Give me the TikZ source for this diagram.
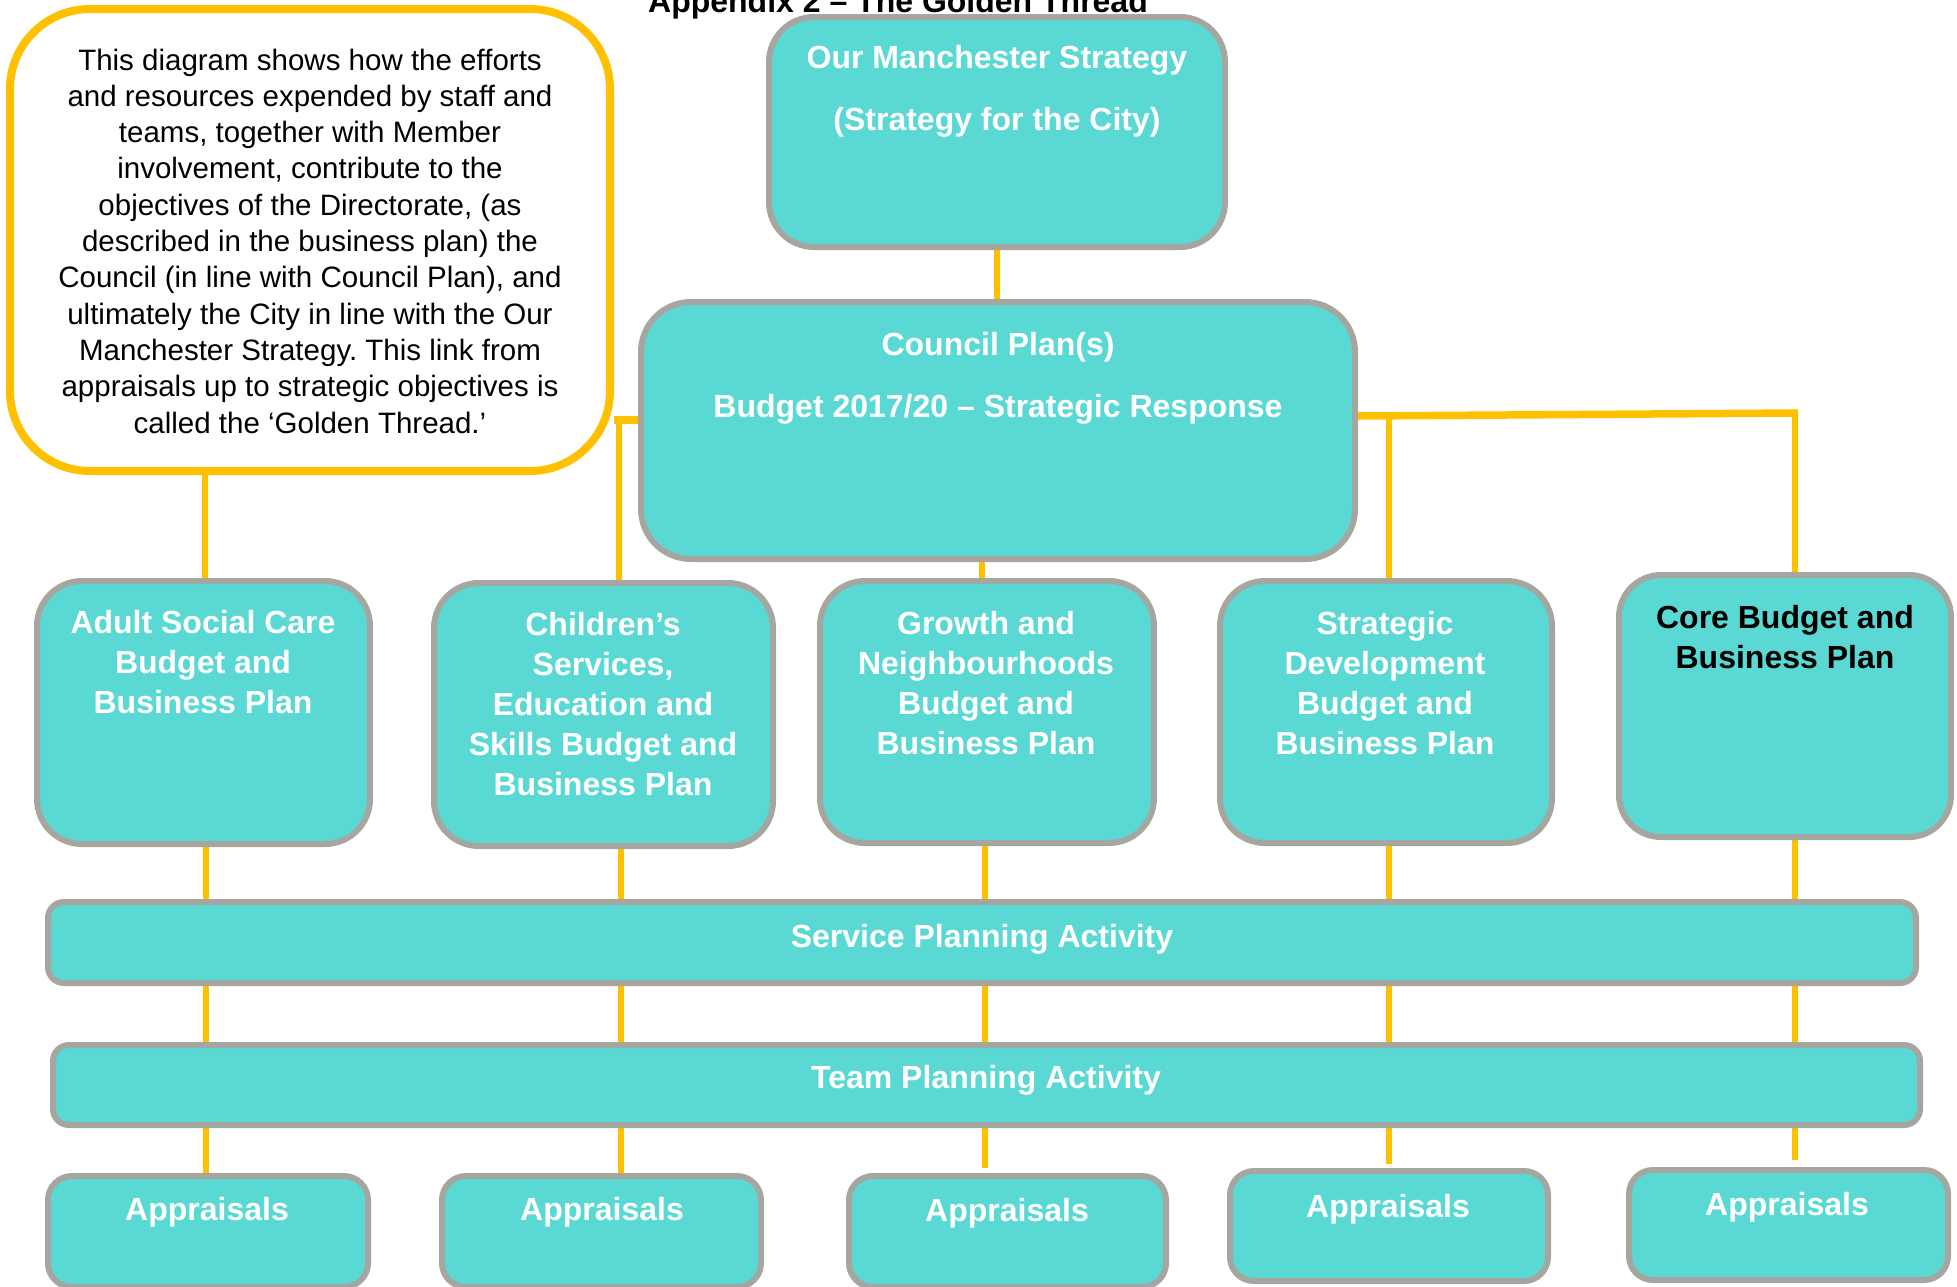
\documentclass[tikz,border=0pt]{standalone}
\usepackage{fontspec}
\setmainfont{Liberation Sans}
\usetikzlibrary{backgrounds,calc}
\definecolor{tealfill}{RGB}{90,217,212}
\definecolor{greyb}{RGB}{165,166,160}
\definecolor{gold}{RGB}{255,192,0}
\newcommand{\mylines}[1]{\begin{tabular}[t]{@{}c@{}}#1\end{tabular}}
\frenchspacing
\begin{document}
\begin{tikzpicture}[x=1pt,y=-1pt,
  tbox/.style={draw=greyb, line width=6pt, fill=tealfill, inner sep=0pt, rectangle},
  callbox/.style={draw=gold, line width=8pt, fill=white, rounded corners=80pt, inner sep=0pt, rectangle},
  thread/.style={draw=gold, line width=6.5pt},
  thickthread/.style={draw=gold, line width=7.5pt},
  wtxt/.style={anchor=base, inner sep=0pt, text=white, font=\bfseries\fontsize{32}{40}\selectfont},
  wtxtwide/.style={anchor=base, inner sep=0pt, text=white, font=\bfseries\fontsize{32}{62}\selectfont},
  btxt/.style={anchor=base, inner sep=0pt, text=black, font=\bfseries\fontsize{32}{40}\selectfont},
  calltxt/.style={anchor=base, inner sep=0pt, text=black, font=\fontsize{29.5}{36.3}\selectfont}
]
\useasboundingbox (0,0) rectangle (1957,1286);

% title
\node[btxt] (title) at (898,12) {Appendix 2 – The Golden Thread};

% callout
\node[callbox, minimum width=600pt, minimum height=462pt] (call) at (310,240) {};
\node[calltxt] (calltext) at (310,70) {\mylines{This diagram shows how the efforts\\
and resources expended by staff and\\
teams, together with Member\\
involvement, contribute to the\\
objectives of the Directorate, (as\\
described in the business plan) the\\
Council (in line with Council Plan), and\\
ultimately the City in line with the Our\\
Manchester Strategy. This link from\\
appraisals up to strategic objectives is\\
called the ‘Golden Thread.’}};

% top boxes
\node[tbox, rounded corners=45pt, minimum width=456pt, minimum height=230pt] (ms) at (997,132) {};
\node[wtxtwide] (mstext) at (997,68) {\mylines{Our Manchester Strategy\\(Strategy for the City)}};

\node[tbox, rounded corners=50pt, minimum width=714pt, minimum height=257pt] (cp) at (998,430.5) {};
\node[wtxtwide] (cptext) at (998,355) {\mylines{Council Plan(s)\\Budget 2017/20 – Strategic Response}};

% directorate boxes
\node[tbox, rounded corners=45pt, minimum width=333pt, minimum height=263pt] (asc) at (203.5,712.5) {};
\node[wtxt] (asctext) at (203,633) {\mylines{Adult Social Care\\Budget and\\Business Plan}};

\node[tbox, rounded corners=45pt, minimum width=339pt, minimum height=263pt] (ch) at (603.5,714.5) {};
\node[wtxt] (chtext) at (603,635) {\mylines{Children’s\\Services,\\Education and\\Skills Budget and\\Business Plan}};

\node[tbox, rounded corners=45pt, minimum width=334pt, minimum height=262pt] (gn) at (987,712) {};
\node[wtxt] (gntext) at (986,634) {\mylines{Growth and\\Neighbourhoods\\Budget and\\Business Plan}};

\node[tbox, rounded corners=45pt, minimum width=332pt, minimum height=262pt] (sd) at (1386,712) {};
\node[wtxt] (sdtext) at (1385,634) {\mylines{Strategic\\Development\\Budget and\\Business Plan}};

\node[tbox, rounded corners=42pt, minimum width=332pt, minimum height=262pt] (core) at (1785,706) {};
\node[btxt] (coretext) at (1785,628) {\mylines{Core Budget and\\Business Plan}};

% planning bars
\node[tbox, rounded corners=16pt, minimum width=1868pt, minimum height=81pt] (spa) at (982,942.5) {};
\node[wtxt] (spatext) at (982,947) {Service Planning Activity};

\node[tbox, rounded corners=16pt, minimum width=1867pt, minimum height=80pt] (tpa) at (986.5,1085) {};
\node[wtxt] (tpatext) at (986,1088) {Team Planning Activity};

% appraisals
\node[tbox, rounded corners=24pt, minimum width=320pt, minimum height=111pt] (a1) at (208,1231.5) {};
\node[wtxt] (a1text) at (207,1220) {Appraisals};
\node[tbox, rounded corners=24pt, minimum width=319pt, minimum height=111pt] (a2) at (601.5,1231.5) {};
\node[wtxt] (a2text) at (602,1220) {Appraisals};
\node[tbox, rounded corners=24pt, minimum width=317pt, minimum height=111pt] (a3) at (1007.5,1231.5) {};
\node[wtxt] (a3text) at (1007,1221) {Appraisals};
\node[tbox, rounded corners=24pt, minimum width=318pt, minimum height=110pt] (a4) at (1389,1226) {};
\node[wtxt] (a4text) at (1388,1217) {Appraisals};
\node[tbox, rounded corners=24pt, minimum width=319pt, minimum height=110pt] (a5) at (1788.5,1225) {};
\node[wtxt] (a5text) at (1787,1215) {Appraisals};

% helper coordinates
\coordinate (ca) at (205,0);
\coordinate (cl) at (619,0);
\coordinate (cy) at (0,420);
\coordinate (ry) at (0,416);
\coordinate (rj) at (1795,413);
\coordinate (cg) at (982,0);
\coordinate (c1) at (206,0);
\coordinate (c2) at (621,0);
\coordinate (c3) at (985,0);
\coordinate (c4) at (1389,0);
\coordinate (c5) at (1795,0);

\begin{scope}[on background layer]
  \draw[thread] (ms.south) -- (ms.south |- cp.north);
  \draw[thread] (call.south -| ca) -- (asc.north -| ca);
  \draw[thickthread] (call.east |- cy) -- (cp.west |- cy);
  \draw[thread] (cl |- cy) -- (ch.north -| cl);
  \draw[thickthread] (cp.east |- ry) -- ([xshift=3pt]rj);
  \draw[thread] (c4 |- ry) -- (sd.north -| c4);
  \draw[thread] (rj) -- (core.north -| rj);
  \draw[thread] (cp.south -| cg) -- (gn.north -| cg);
  % column 1
  \draw[thread] (asc.south -| c1) -- (spa.north -| c1);
  \draw[thread] (spa.south -| c1) -- (tpa.north -| c1);
  \draw[thread] (tpa.south -| c1) -- (a1.north -| c1);
  % column 2
  \draw[thread] (ch.south -| c2) -- (spa.north -| c2);
  \draw[thread] (spa.south -| c2) -- (tpa.north -| c2);
  \draw[thread] (tpa.south -| c2) -- (a2.north -| c2);
  % column 3
  \draw[thread] (gn.south -| c3) -- (spa.north -| c3);
  \draw[thread] (spa.south -| c3) -- (tpa.north -| c3);
  \draw[thread] (tpa.south -| c3) -- ($(a3.north -| c3)+(0,-5)$);
  % column 4
  \draw[thread] (sd.south -| c4) -- (spa.north -| c4);
  \draw[thread] (spa.south -| c4) -- (tpa.north -| c4);
  \draw[thread] (tpa.south -| c4) -- ($(a4.north -| c4)+(0,-4)$);
  % column 5
  \draw[thread] (core.south -| c5) -- (spa.north -| c5);
  \draw[thread] (spa.south -| c5) -- (tpa.north -| c5);
  \draw[thread] (tpa.south -| c5) -- ($(a5.north -| c5)+(0,-7)$);
\end{scope}
\end{tikzpicture}
\end{document}
